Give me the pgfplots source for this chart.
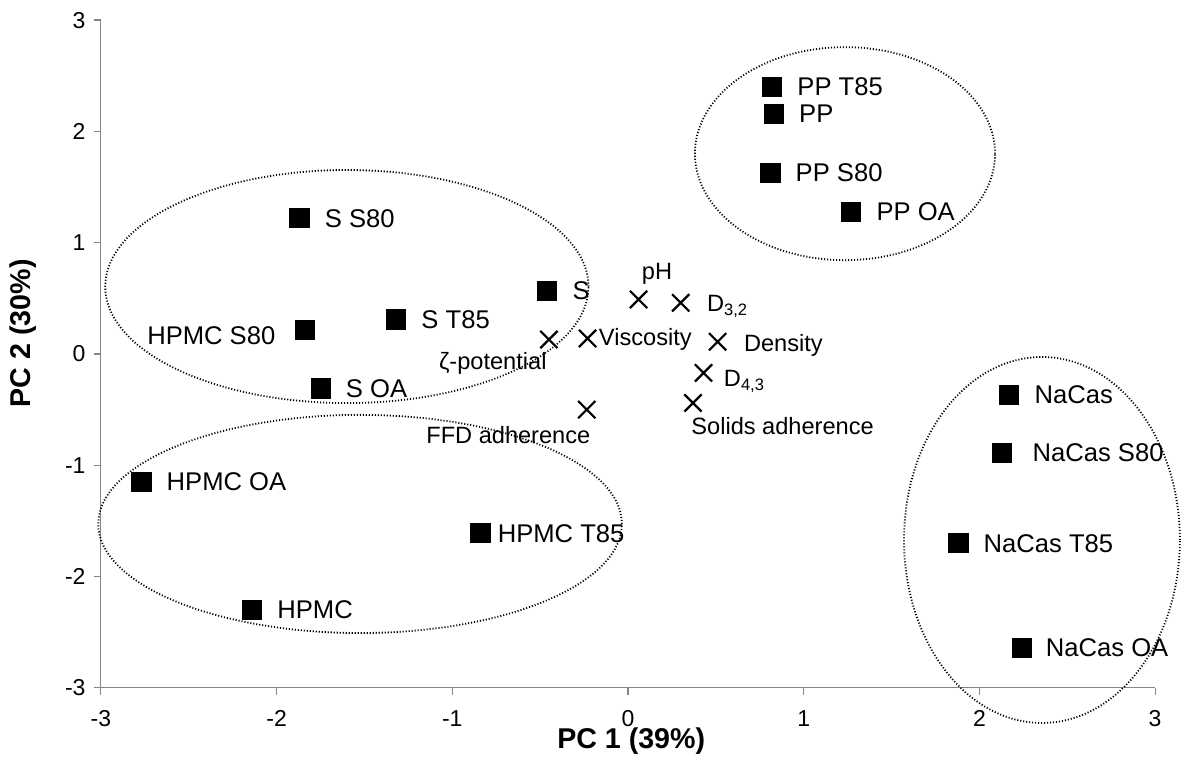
\documentclass[border=0pt]{standalone}
\usepackage{fontspec}
\setmainfont{Liberation Sans}
\usepackage{pgfplots}
\pgfplotsset{compat=1.18}
\definecolor{axgray}{HTML}{868686}
\newcommand{\tickfont}{\fontsize{11.5}{13}\selectfont}
\tikzset{
  lab/.style={font=\fontsize{12.8}{15}\selectfont, inner sep=0pt, anchor=west, xshift=12.5pt},
  vlab/.style={font=\fontsize{11.8}{14}\selectfont, inner sep=0pt},
  ell/.style={black, line width=0.9pt, dash pattern=on 0.55pt off 0.95pt},
}
\begin{document}
\begin{tikzpicture}
\begin{axis}[
  at={(0,0)}, anchor=south west,
  scale only axis, width=527.1pt, height=333.9pt,
  xmin=-3, xmax=3, ymin=-3, ymax=3,
  axis x line=bottom, axis y line=left,
  axis line style={-, draw=axgray, line width=0.6pt},
  tick style={draw=axgray, line width=0.6pt},
  tick align=outside, major tick length=3.5pt,
  xtick={-3,-2,-1,0,1,2,3}, ytick={-3,-2,-1,0,1,2,3},
  /pgf/number format/assume math mode=true,
  tick label style={font=\tickfont, inner sep=0pt},
  xticklabel style={font=\tickfont, anchor=base, yshift=-16pt},
  yticklabel style={font=\tickfont, anchor=east, xshift=-4pt},
  clip=false,
  xlabel={PC 1 (39\%)}, ylabel={PC 2 (30\%)},
  every axis x label/.style={at={(axis description cs:0.503,0)}, anchor=base, yshift=-30.5pt, font=\bfseries\fontsize{14.3}{16}\selectfont},
  every axis y label/.style={at={(axis description cs:0,0.531)}, rotate=90, anchor=center, yshift=39pt, font=\bfseries\fontsize{14.3}{16}\selectfont},
]
% ellipses
\draw[ell] (axis cs:-1.60,0.606) ellipse [x radius=1.375, y radius=1.047];
\draw[ell] (axis cs:-1.525,-1.527) ellipse [x radius=1.49, y radius=0.98];
\draw[ell] (axis cs:1.235,1.80) ellipse [x radius=0.854, y radius=0.957];
\draw[ell] (axis cs:2.356,-1.671) ellipse [x radius=0.785, y radius=1.644];
% samples
\addplot[only marks, mark=square*, mark size=4.8pt, mark options={black, fill=black}] coordinates {
  (0.82,2.40) (0.83,2.16) (0.81,1.63) (1.27,1.28)
  (-1.87,1.22) (-0.46,0.57) (-1.32,0.31) (-1.84,0.22) (-1.75,-0.31)
  (-2.77,-1.15) (-0.84,-1.61) (-2.14,-2.30)
  (2.17,-0.37) (2.13,-0.89) (1.88,-1.70) (2.24,-2.64)
};
% variables
\addplot[only marks, mark=x, mark size=6.1pt, line width=1.1pt, mark options={black, line width=1.1pt}] coordinates {
  (-0.45,0.13) (-0.23,0.14) (0.06,0.49) (0.30,0.46)
  (0.51,0.11) (0.43,-0.17) (0.37,-0.44) (-0.235,-0.50)
};
% sample labels
\node[lab] at (axis cs:0.82,2.40) {PP T85};
\node[lab] at (axis cs:0.83,2.16) {PP};
\node[lab] at (axis cs:0.81,1.63) {PP S80};
\node[lab] at (axis cs:1.27,1.28) {PP OA};
\node[lab] at (axis cs:-1.87,1.22) {S S80};
\node[lab] at (axis cs:-0.46,0.57) {S};
\node[lab] at (axis cs:-1.32,0.31) {S T85};
\node[lab, anchor=east, xshift=-27pt, yshift=-3pt] at (axis cs:-1.84,0.22) {HPMC S80};
\node[lab] at (axis cs:-1.75,-0.31) {S OA};
\node[lab] at (axis cs:-2.77,-1.15) {HPMC OA};
\node[lab, xshift=-4pt] at (axis cs:-0.84,-1.61) {HPMC T85};
\node[lab] at (axis cs:-2.14,-2.30) {HPMC};
\node[lab] at (axis cs:2.17,-0.37) {NaCas};
\node[lab, xshift=2.5pt] at (axis cs:2.13,-0.89) {NaCas S80};
\node[lab] at (axis cs:1.88,-1.70) {NaCas T85};
\node[lab, xshift=-0.5pt] at (axis cs:2.24,-2.64) {NaCas OA};
% variable labels
\node[vlab, anchor=base east, xshift=-1pt, yshift=-15pt] at (axis cs:-0.45,0.13) {ζ-potential};
\node[vlab, anchor=base west, xshift=5.5pt, yshift=-3.5pt] at (axis cs:-0.23,0.14) {Viscosity};
\node[vlab, anchor=base west, xshift=1.5pt, yshift=10pt] at (axis cs:0.06,0.49) {pH};
\node[vlab, anchor=base west, xshift=13pt, yshift=-4.5pt] at (axis cs:0.30,0.46) {D\textsubscript{3,2}};
\node[vlab, anchor=base west, xshift=13pt, yshift=-5pt] at (axis cs:0.51,0.11) {Density};
\node[vlab, anchor=base west, xshift=10pt, yshift=-6.8pt] at (axis cs:0.43,-0.17) {D\textsubscript{4,3}};
\node[vlab, anchor=base west, xshift=-1pt, yshift=-16pt] at (axis cs:0.37,-0.44) {Solids adherence};
\node[vlab, anchor=base east, xshift=2pt, yshift=-16.7pt] at (axis cs:-0.235,-0.50) {FFD adherence};
\end{axis}
\pgfresetboundingbox
\path (-50.45pt,-40.55pt) rectangle (540.05pt,343.95pt);
\end{tikzpicture}
\end{document}
